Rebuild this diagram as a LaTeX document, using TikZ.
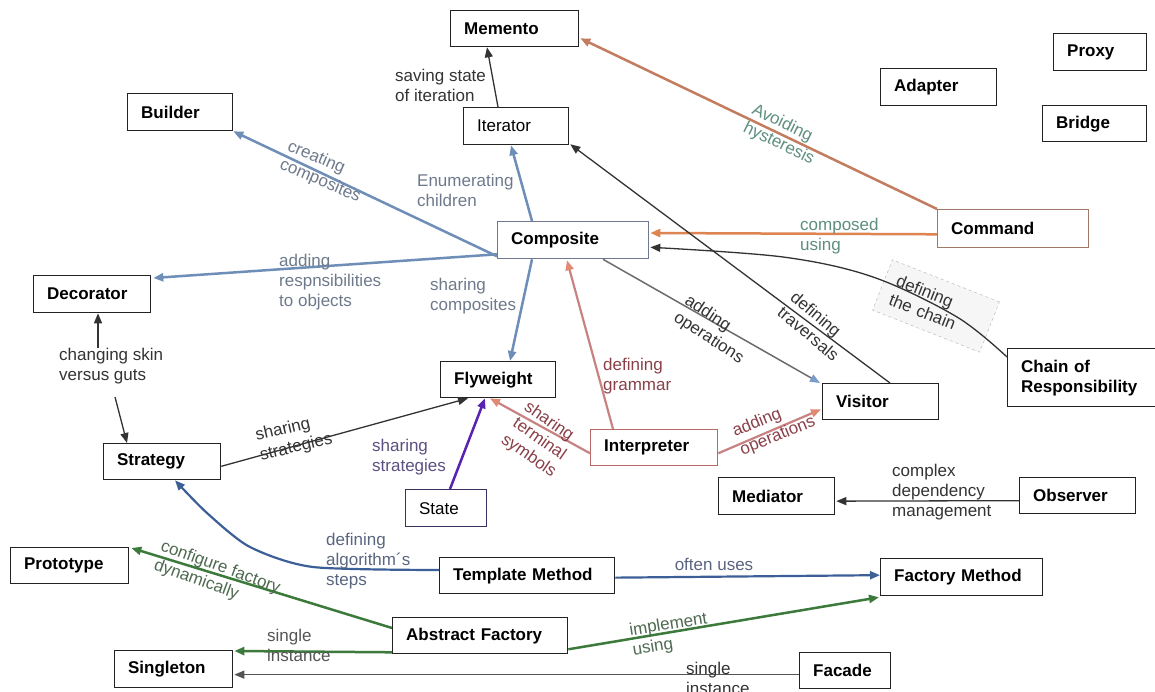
\documentclass[tikz,border=0pt]{standalone}
\usepackage{fontspec}
\setmainfont{Liberation Sans}
\usetikzlibrary{arrows.meta,calc}
\definecolor{steel}{HTML}{6E8EB8}
\definecolor{steelhd}{HTML}{7B9CC8}
\definecolor{cmdbrown}{HTML}{C27C5E}
\definecolor{cmdorange}{HTML}{DE8450}
\definecolor{tealtxt}{HTML}{5E8F7E}
\definecolor{graytxt}{HTML}{6E7A8C}
\definecolor{darktxt}{HTML}{333333}
\definecolor{midgray}{HTML}{555555}
\definecolor{redline}{HTML}{C88282}
\definecolor{redhead}{HTML}{E08A74}
\definecolor{redtxt}{HTML}{8A4048}
\definecolor{purpline}{HTML}{5A22B0}
\definecolor{purptxt}{HTML}{5C5080}
\definecolor{navyline}{HTML}{3D5F98}
\definecolor{navytxt}{HTML}{5A6580}
\definecolor{greenline}{HTML}{3C7A3C}
\definecolor{greentxt}{HTML}{4E6A50}
\definecolor{boxc}{HTML}{222222}
\definecolor{compbox}{HTML}{6F7890}
\definecolor{cmdbox}{HTML}{A07868}
\definecolor{intbox}{HTML}{B86868}
\definecolor{statebox}{HTML}{3A3060}
\begin{document}
\begin{tikzpicture}[x=1pt,y=-1pt,
  box/.style={draw=boxc, fill=white, line width=1.3pt, anchor=north west, align=left,
    inner xsep=13.5pt, inner ysep=0pt, text=black, font=\fontsize{17}{20}\selectfont\bfseries},
  rbox/.style={box, font=\fontsize{17}{20}\selectfont},
  lbl/.style={inner sep=0pt, align=left, font=\fontsize{17}{20}\selectfont},
  thinln/.style={line width=1.3pt, draw=darktxt},
  thickln/.style={line width=2.5pt},
  tip/.style={-{Triangle[length=10pt,width=8pt]}}]
\fill[white] (0,0) rectangle (1155,692);
\useasboundingbox (0,0) rectangle (1155,692);

% boxes
\node[box, text width=101pt, minimum height=36pt] (Memento) at (450,10) {Memento};
\node[box, text width=66pt, minimum height=37pt] (Proxy) at (1053,33) {Proxy};
\node[box, text width=89pt, minimum height=37pt] (Adapter) at (880,68) {Adapter};
\node[box, text width=77pt, minimum height=36pt] (Bridge) at (1042,105) {Bridge};
\node[box, text width=78pt, minimum height=37pt] (Builder) at (127,93) {Builder};
\node[rbox, text width=78pt, minimum height=37pt] (Iterator) at (463,107) {Iterator};
\node[box, draw=cmdbox, text width=124pt, minimum height=38pt] (Command) at (937,209) {Command};
\node[box, draw=compbox, text width=124pt, minimum height=37pt] (Composite) at (497,221) {Composite};
\node[box, text width=90pt, minimum height=37pt] (Decorator) at (33,275) {Decorator};
\node[box, text width=133pt, minimum height=58pt] (Chain) at (1007,348) {Chain of\\Responsibility};
\node[box, text width=88pt, minimum height=36pt] (Flyweight) at (440,361) {Flyweight};
\node[box, text width=89pt, minimum height=36pt] (Visitor) at (822,383) {Visitor};
\node[box, text width=90pt, minimum height=36pt] (Strategy) at (103,443) {Strategy};
\node[box, draw=intbox, text width=100pt, minimum height=36pt] (Interpreter) at (590,429) {Interpreter};
\node[rbox, draw=statebox, text width=54pt, minimum height=37pt] (State) at (405,489) {State};
\node[box, text width=89pt, minimum height=37pt] (Mediator) at (718,477) {Mediator};
\node[box, text width=89pt, minimum height=36pt] (Observer) at (1019,477) {Observer};
\node[box, text width=91pt, minimum height=36pt] (Prototype) at (10,547) {Prototype};
\node[box, text width=148pt, minimum height=36pt] (TM) at (439,557) {Template Method};
\node[box, text width=135pt, minimum height=37pt] (FM) at (880,558) {Factory Method};
\node[box, text width=148pt, minimum height=36pt] (AF) at (392,617) {Abstract Factory};
\node[box, text width=91pt, minimum height=37pt] (Singleton) at (114,650) {Singleton};
\node[box, text width=64pt, minimum height=36pt] (Facade) at (799,652) {Facade};

% chain label box
\node[lbl, text=darktxt, draw=gray!60, dashed, fill=gray!7, rotate=-21.5,
  minimum width=115pt, minimum height=54pt, text width=91pt, inner xsep=12pt] (lChain) at (936,306) {defining\\the chain};

% connectors
\draw[thinln,tip] ($(Iterator.north west)+(35,0)$) -- ($(Memento.south west)+(37,0)$);
\draw[thickln,draw=steel,tip] ($(Composite.north west)+(35,0)$) -- ($(Iterator.south west)+(48,0)$);
\draw[thickln,draw=steel,tip] ($(Composite.south west)+(0,-3)$) -- (Builder.south east);
\draw[thickln,draw=steel,tip] ($(Composite.south west)+(0,-5)$) -- ($(Decorator.north east)+(2,3)$);
\draw[thickln,draw=steel,tip] ($(Composite.south west)+(35,0)$) -- ($(Flyweight.north west)+(70,0)$);
\draw[thickln,draw=cmdbrown,tip] (Command.north west) -- ($(Memento.south east)+(1,-9)$);
\draw[thickln,draw=cmdorange,tip] ($(Command.south west)+(0,-14)$) -- ($(Composite.north east)+(1,12)$);
\coordinate (ch1) at ($(Chain.north west)+(0,9)$);
\coordinate (co1) at ($(Composite.south east)+(1,-12)$);
\draw[thinln,tip] plot[smooth,tension=0.55] coordinates {(ch1) (957,317) (873,277) (783,257) (co1)};
\draw[thinln,tip] ($(Visitor.north west)+(68,0)$) -- ($(Iterator.south east)+(1,-1)$);
\draw[line width=1.5pt,draw=gray!85!black,-{Triangle[length=10pt,width=8pt,color=steelhd]}]
  ($(Composite.south west)+(106,0)$) -- ($(Visitor.north west)+(-2,0)$);
\draw[line width=2.2pt,draw=redline,-{Triangle[length=10pt,width=8pt,color=redhead]}]
  ($(Interpreter.north west)+(23,0)$) -- ($(Composite.south west)+(70,1)$);
\draw[line width=2.2pt,draw=redline,-{Triangle[length=10pt,width=8pt,color=redhead]}]
  ($(Interpreter.south west)+(0,-13)$) -- ($(Flyweight.south west)+(50,0)$);
\draw[line width=2.2pt,draw=redline,-{Triangle[length=10pt,width=8pt,color=redhead]}]
  ($(Interpreter.south east)+(0,-13)$) -- ($(Visitor.south west)+(-1,-11)$);
\draw[thinln,tip] ($(Strategy.south east)+(0,-14)$) -- ($(Flyweight.south west)+(28,0)$);
\draw[thickln,draw=purpline,tip] ($(State.north west)+(45,0)$) -- ($(Flyweight.south west)+(45,0)$);
\coordinate (tm1) at ($(TM.north west)+(0,13)$);
\coordinate (st1) at ($(Strategy.south west)+(72,0)$);
\draw[line width=2.2pt,draw=navyline,tip] plot[smooth,tension=0.45] coordinates {(tm1) (313,567) (250,547) (207,513) (st1)};
\draw[line width=2.2pt,draw=navyline,tip] ($(TM.east)+(0,2)$) -- ($(FM.west)+(0,-2)$);
\draw[thickln,draw=greenline,tip] ($(AF.north west)+(0,11)$) -- ($(Prototype.north east)+(2,1)$);
\draw[thickln,draw=greenline,tip] ($(AF.south west)+(0,-2)$) -- ($(Singleton.north east)+(1,1)$);
\draw[thickln,draw=greenline,tip] ($(AF.south east)+(0,-5)$) -- ($(FM.south west)+(-1,1)$);
\draw[line width=1.3pt,draw=midgray,tip] ($(Facade.west)+(0,4)$) -- ($(Singleton.east)+(1,5.5)$);
\draw[thinln,tip] ($(Observer.west)+(0,5)$) -- ($(Mediator.east)+(1,5)$);
\coordinate (sk1) at (98,348);
\coordinate (sk2) at (115,397);
\draw[thinln,tip] (sk1) -- (sk1 |- Decorator.south);
\draw[thinln,tip] (sk2) -- ($(Strategy.north west)+(24,0)$);

% labels
\node[lbl,text=darktxt,anchor=west] (lSave) at (395,85) {saving state\\of iteration};
\node[lbl,text=tealtxt,rotate=-26] (lAvoid) at (783,135) {Avoiding\\hysteresis};
\node[lbl,text=graytxt,anchor=west] (lEnum) at (417,190) {Enumerating\\children};
\node[lbl,text=graytxt,rotate=-23] (lCreate) at (324,172) {creating\\composites};
\node[lbl,text=graytxt,anchor=west] (lResp) at (279,282) {adding\\respnsibilities\\to objects};
\node[lbl,text=graytxt,anchor=west] (lShareC) at (430,296) {sharing\\composites};
\node[lbl,text=tealtxt,anchor=west] (lComp) at (800,236) {composed\\using};
\node[lbl,text=darktxt,rotate=-40] (lTrav) at (815,326) {defining\\traversals};
\node[lbl,text=darktxt,rotate=-33] (lAddC) at (714,330) {adding\\operations};
\node[lbl,text=redtxt,anchor=west] (lGram) at (603,376) {defining\\grammar};
\node[lbl,text=redtxt,rotate=-35] (lTerm) at (540,440) {sharing\\terminal\\symbols};
\node[lbl,text=redtxt,rotate=22] (lAddI) at (774,427) {adding\\operations};
\node[lbl,text=darktxt,anchor=west] (lSkin) at (59,366) {changing skin\\versus guts};
\node[lbl,text=darktxt,rotate=13] (lStratS) at (294,438) {sharing\\strategies};
\node[lbl,text=purptxt,anchor=west] (lStratP) at (372,457) {sharing\\strategies};
\node[lbl,text=navytxt,anchor=west] (lAlgo) at (326,561) {defining\\algorithm´s\\steps};
\node[lbl,text=navytxt] (lOften) at (714,564) {often uses};
\node[lbl,text=greentxt,rotate=-20] (lConf) at (217,577) {configure factory\\dynamically};
\node[lbl,text=midgray,anchor=west] (lSingA) at (267,645) {single\\instance};
\node[lbl,text=greentxt,rotate=9] (lImpl) at (670,635) {implement\\using};
\node[lbl,text=darktxt,anchor=west] (lSingF) at (686,678) {single\\instance};
\node[lbl,text=darktxt,anchor=west] (lCplx) at (892,492) {complex\\dependency\\management};
\end{tikzpicture}
\end{document}
